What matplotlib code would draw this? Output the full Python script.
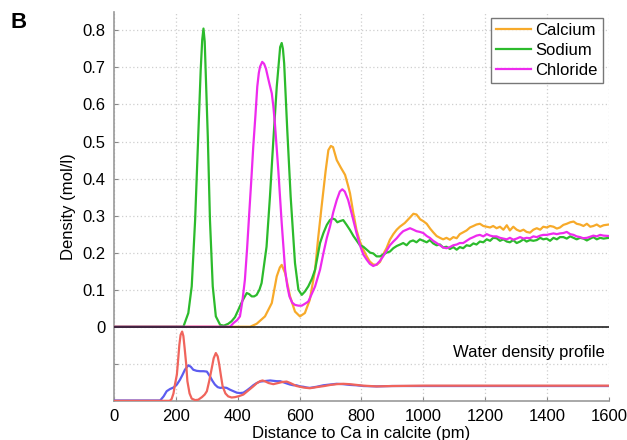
import numpy as np
import matplotlib
matplotlib.use('Agg')
import matplotlib.pyplot as plt

plt.rcParams['font.family'] = ['Liberation Sans', 'DejaVu Sans']

# ion density profiles (pm, mol/l)
ca_x = [0, 440, 461, 488, 510, 526, 536, 542, 553, 569, 585, 601, 617, 633, 650, 660, 671, 684, 693,
        701, 708, 720, 733, 747, 757, 763, 773, 784, 795, 806, 817, 827, 838, 849, 860, 870, 881, 892,
        903, 914, 924, 940, 957, 968, 978, 990, 1000, 1011, 1022, 1032, 1043, 1054, 1064, 1075, 1086,
        1097, 1108, 1118, 1129, 1140, 1151, 1162, 1172, 1183, 1194, 1205, 1216, 1226, 1237, 1248, 1259,
        1270, 1280, 1291, 1302, 1313, 1324, 1334, 1345, 1356, 1367, 1378, 1388, 1399, 1410, 1421, 1432,
        1442, 1453, 1464, 1475, 1486, 1496, 1507, 1518, 1529, 1540, 1550, 1561, 1572, 1583, 1600]
ca_y = [0, 0, 0.008, 0.028, 0.064, 0.136, 0.16, 0.167, 0.145, 0.082, 0.041, 0.028, 0.037, 0.073, 0.154,
        0.24, 0.324, 0.42, 0.477, 0.488, 0.485, 0.45, 0.43, 0.41, 0.38, 0.36, 0.31, 0.261, 0.23, 0.208,
        0.19, 0.176, 0.168, 0.167, 0.175, 0.195, 0.212, 0.235, 0.25, 0.262, 0.27, 0.28, 0.295, 0.305,
        0.303, 0.29, 0.285, 0.278, 0.265, 0.255, 0.245, 0.24, 0.236, 0.24, 0.235, 0.242, 0.239, 0.25,
        0.255, 0.26, 0.268, 0.272, 0.276, 0.278, 0.272, 0.27, 0.268, 0.272, 0.266, 0.27, 0.262, 0.274,
        0.26, 0.27, 0.262, 0.258, 0.262, 0.256, 0.254, 0.262, 0.266, 0.262, 0.27, 0.268, 0.272, 0.27,
        0.265, 0.268, 0.275, 0.278, 0.282, 0.284, 0.278, 0.276, 0.272, 0.278, 0.27, 0.272, 0.276, 0.27,
        0.274, 0.276]

na_x = [0, 224, 240, 251, 262, 272, 280, 285, 289, 293, 296, 303, 310, 319, 329, 343, 355, 369, 380,
        391, 402, 415, 429, 437, 445, 453, 461, 470, 477, 493, 504, 515, 526, 537, 542, 546, 550, 560,
        571, 585, 596, 607, 617, 628, 640, 650, 666, 677, 688, 698, 706, 714, 722, 730, 741, 752, 763,
        774, 785, 795, 806, 817, 828, 838, 849, 860, 870, 881, 892, 903, 914, 925, 935, 946, 957, 967,
        978, 989, 1000, 1011, 1021, 1032, 1043, 1054, 1064, 1075, 1086, 1097, 1108, 1118, 1129, 1140,
        1151, 1162, 1172, 1183, 1194, 1205, 1216, 1226, 1237, 1248, 1259, 1270, 1280, 1291, 1302, 1313,
        1324, 1334, 1345, 1356, 1367, 1378, 1388, 1399, 1410, 1421, 1432, 1442, 1453, 1464, 1475, 1486,
        1496, 1507, 1518, 1529, 1540, 1550, 1561, 1572, 1583, 1600]
na_y = [0, 0, 0.037, 0.109, 0.288, 0.513, 0.693, 0.775, 0.805, 0.77, 0.693, 0.513, 0.288, 0.109, 0.028,
        0.005, 0.003, 0.008, 0.015, 0.026, 0.046, 0.07, 0.091, 0.088, 0.082, 0.082, 0.086, 0.1, 0.118,
        0.216, 0.351, 0.504, 0.648, 0.755, 0.766, 0.75, 0.711, 0.531, 0.351, 0.172, 0.1, 0.086, 0.095,
        0.109, 0.13, 0.154, 0.226, 0.253, 0.275, 0.288, 0.292, 0.29, 0.282, 0.285, 0.288, 0.275, 0.261,
        0.245, 0.232, 0.22, 0.216, 0.208, 0.2, 0.198, 0.19, 0.19, 0.195, 0.2, 0.203, 0.212, 0.218, 0.222,
        0.226, 0.22, 0.23, 0.233, 0.228, 0.236, 0.232, 0.228, 0.234, 0.225, 0.22, 0.222, 0.214, 0.216,
        0.21, 0.215, 0.208, 0.215, 0.212, 0.22, 0.218, 0.225, 0.222, 0.23, 0.228, 0.236, 0.232, 0.24,
        0.239, 0.232, 0.236, 0.23, 0.228, 0.234, 0.226, 0.23, 0.236, 0.23, 0.234, 0.232, 0.234, 0.24,
        0.236, 0.238, 0.232, 0.24, 0.236, 0.242, 0.242, 0.238, 0.244, 0.24, 0.236, 0.24, 0.238, 0.233,
        0.238, 0.242, 0.236, 0.24, 0.238, 0.24]

cl_x = [0, 375, 386, 398, 407, 415, 423, 430, 437, 444, 450, 457, 463, 468, 472, 479, 485, 491, 497,
        502, 510, 515, 520, 531, 542, 553, 560, 567, 576, 585, 596, 607, 617, 628, 640, 650, 666, 677,
        688, 698, 709, 720, 730, 738, 746, 757, 770, 784, 795, 806, 817, 827, 838, 849, 860, 870, 881,
        892, 903, 914, 925, 935, 946, 957, 968, 978, 989, 1000, 1011, 1021, 1032, 1043, 1054, 1064, 1075,
        1086, 1097, 1108, 1118, 1129, 1140, 1151, 1162, 1172, 1183, 1194, 1205, 1216, 1226, 1237, 1248,
        1259, 1270, 1280, 1291, 1302, 1313, 1324, 1334, 1345, 1356, 1367, 1378, 1388, 1399, 1410, 1421,
        1432, 1442, 1453, 1464, 1475, 1486, 1496, 1507, 1517, 1529, 1540, 1550, 1561, 1572, 1583, 1600]
cl_y = [0, 0, 0.01, 0.018, 0.028, 0.07, 0.127, 0.21, 0.306, 0.4, 0.486, 0.57, 0.648, 0.685, 0.702,
        0.715, 0.71, 0.697, 0.675, 0.657, 0.63, 0.595, 0.549, 0.423, 0.28, 0.154, 0.11, 0.082, 0.065,
        0.059, 0.057, 0.057, 0.062, 0.068, 0.09, 0.109, 0.154, 0.199, 0.24, 0.27, 0.31, 0.342, 0.365,
        0.371, 0.365, 0.342, 0.3, 0.253, 0.22, 0.195, 0.181, 0.17, 0.164, 0.168, 0.178, 0.19, 0.205,
        0.22, 0.23, 0.239, 0.25, 0.258, 0.262, 0.266, 0.262, 0.258, 0.256, 0.253, 0.245, 0.24, 0.232,
        0.226, 0.22, 0.214, 0.212, 0.215, 0.22, 0.222, 0.226, 0.226, 0.232, 0.238, 0.242, 0.246, 0.248,
        0.244, 0.25, 0.246, 0.244, 0.244, 0.24, 0.238, 0.236, 0.24, 0.235, 0.238, 0.242, 0.238, 0.24,
        0.239, 0.244, 0.242, 0.246, 0.248, 0.248, 0.25, 0.252, 0.25, 0.252, 0.253, 0.256, 0.25, 0.248,
        0.244, 0.242, 0.239, 0.24, 0.243, 0.246, 0.244, 0.248, 0.246, 0.245]

# water density profile, drawn below zero (arbitrary units)
wb_x = [0, 149, 160, 170, 181, 192, 203, 213, 221, 229, 240, 248, 256, 267, 278, 289, 300, 310, 318,
        326, 335, 343, 354, 364, 375, 386, 397, 407, 418, 429, 440, 450, 461, 472, 483, 494, 505, 515,
        526, 537, 548, 558, 569, 580, 590, 601, 612, 623, 633, 655, 677, 698, 720, 741, 763, 784, 806,
        849, 900, 1000, 1600]
wb_y = [-0.199, -0.199, -0.188, -0.174, -0.168, -0.164, -0.156, -0.143, -0.13, -0.116, -0.104, -0.108,
        -0.116, -0.119, -0.12, -0.12, -0.121, -0.134, -0.146, -0.156, -0.163, -0.165, -0.164, -0.165,
        -0.17, -0.174, -0.178, -0.179, -0.178, -0.172, -0.165, -0.158, -0.152, -0.148, -0.147, -0.146,
        -0.145, -0.146, -0.147, -0.147, -0.15, -0.153, -0.156, -0.158, -0.158, -0.161, -0.162, -0.164,
        -0.165, -0.162, -0.158, -0.156, -0.154, -0.155, -0.157, -0.158, -0.16, -0.161, -0.16, -0.16,
        -0.16]
wr_x = [0, 180, 186, 192, 197, 203, 207, 211, 215, 220, 224, 228, 233, 237, 244, 251, 262, 272, 284,
        293, 300, 308, 316, 322, 329, 335, 340, 346, 351, 360, 369, 380, 391, 405, 418, 434, 450, 462,
        472, 480, 490, 500, 515, 530, 545, 558, 570, 590, 612, 633, 655, 680, 700, 720, 741, 762, 784,
        806, 849, 900, 1000, 1200, 1600]
wr_y = [-0.2, -0.2, -0.195, -0.18, -0.155, -0.129, -0.09, -0.049, -0.022, -0.013, -0.025, -0.057, -0.1,
        -0.147, -0.18, -0.194, -0.198, -0.197, -0.19, -0.183, -0.174, -0.145, -0.111, -0.085, -0.071,
        -0.08, -0.102, -0.135, -0.161, -0.18, -0.188, -0.191, -0.19, -0.187, -0.183, -0.172, -0.161,
        -0.152, -0.147, -0.145, -0.148, -0.152, -0.155, -0.152, -0.149, -0.148, -0.152, -0.16, -0.164,
        -0.166, -0.163, -0.16, -0.157, -0.155, -0.154, -0.155, -0.157, -0.159, -0.161, -0.16, -0.159,
        -0.159, -0.159]

x_ticks = [0, 200, 400, 600, 800, 1000, 1200, 1400, 1600]
y_ticks = [-0.1, 0, 0.1, 0.2, 0.3, 0.4, 0.5, 0.6, 0.7, 0.8]
y_labels = ['', '0', '0.1', '0.2', '0.3', '0.4', '0.5', '0.6', '0.7', '0.8']

fig, ax = plt.subplots(figsize=(6.27, 4.4), dpi=100)
fig.subplots_adjust(left=0.182, right=0.971, top=0.973, bottom=0.089)

ax.grid(True, color='#cfcfcf', linestyle=(0, (1, 2)), linewidth=0.9)
ax.set_axisbelow(True)

ax.plot(ca_x, ca_y, color='#f7aa2a', lw=1.6, label='Calcium', zorder=3)
ax.plot(na_x, na_y, color='#2cbb2c', lw=1.6, label='Sodium', zorder=3)
ax.plot(cl_x, cl_y, color='#ee2aee', lw=1.6, label='Chloride', zorder=4)
ax.axhline(0, color='#222222', lw=1.2, zorder=5)

ax.plot(wb_x, wb_y, color='#5c5cf0', lw=1.6, zorder=3)
ax.plot(wr_x, wr_y, color='#f0645c', lw=1.6, zorder=4)
ax.text(1588, -0.07, 'Water density profile', ha='right', va='center', fontsize=12)

ax.set_xlim(0, 1600)
ax.set_ylim(-0.2, 0.85)
ax.set_xticks(x_ticks)
ax.set_yticks(y_ticks)
ax.set_yticklabels(y_labels)
ax.tick_params(axis='both', direction='in', color='#888888', length=3, labelsize=12)
ax.tick_params(axis='y', pad=6)
ax.tick_params(axis='x', pad=6)

for s in ['top', 'right']:
    ax.spines[s].set_visible(False)
for s in ['left', 'bottom']:
    ax.spines[s].set_color('#999999')
    ax.spines[s].set_linewidth(1.2)

ax.set_xlabel('Distance to Ca in calcite (pm)', fontsize=12)
ax.set_ylabel('Density (mol/l)', fontsize=12)
ax.xaxis.set_label_coords(0.5, -0.064)
ax.yaxis.set_label_coords(-0.078, 0.5)

leg = ax.legend(loc='upper right', fontsize=12, fancybox=False, handlelength=2.1,
                labelspacing=0.3, borderpad=0.3, handletextpad=0.3, borderaxespad=0.35)
leg.get_frame().set_edgecolor('#555555')
leg.get_frame().set_linewidth(1.0)

fig.text(0.016, 0.972, 'B', fontsize=16, fontweight='bold', va='top', ha='left')

fig.savefig('out.png', dpi=100)
